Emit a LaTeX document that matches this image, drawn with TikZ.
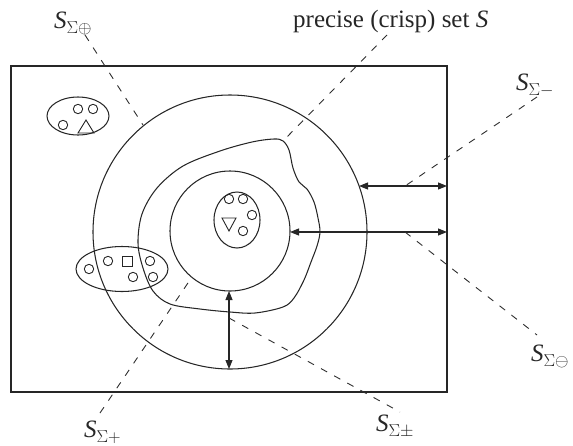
\documentclass[tikz,border=0pt]{standalone}
\usepackage{fontspec}
\setmainfont{Liberation Serif}
\usetikzlibrary{arrows.meta}
\newcommand{\subsz}[1]{\raisebox{-5pt}{\fontsize{18}{18}\selectfont$#1$}}
\tikzset{
  ln/.style={line width=1.05pt, draw=black!85},
  dsh/.style={line width=0.9pt, draw=black!82, dash pattern=on 7pt off 8pt},
  dimarrow/.style={ln, {Triangle[length=9pt,width=7pt]}-{Triangle[length=9pt,width=7pt]}},
  lbl/.style={font=\fontsize{25}{29}\selectfont, inner sep=0pt, anchor=base west, text=black!85},
  dot/.style={ln, line width=0.9pt},
}
\begin{document}
\begin{tikzpicture}[x=1pt,y=-1pt]
\useasboundingbox (0,0) rectangle (573,445);
% frame
\draw[ln] (11,66) rectangle (447,392);
\coordinate (fr1) at (447,186);
\coordinate (fr2) at (447,232);
% outer circle
\coordinate (oc) at (230,232);
\draw[ln] (oc) circle[radius=137];
% inner circle
\coordinate (ic) at (230,231);
\draw[ln] (ic) circle[radius=60];
% crisp set S
\draw[ln] plot[smooth cycle, tension=0.55] coordinates {
 (283,141) (289,150) (293,168) (299,182) (307,189) (314,202) (318,218) (320,232)
 (317,246) (311,262) (304,280) (294,298) (283,307) (255,313) (230,312) (200,309)
 (170,304) (153,291) (143,268) (138,243) (142,214) (157,188) (183,166) (220,151)
 (252,142) (274,139)};
% ellipses
\draw[ln] (78,116) ellipse[x radius=31, y radius=19];
\draw[ln] (237,220) ellipse[x radius=23, y radius=28];
\draw[ln] (122,269) ellipse[x radius=46, y radius=22.5];
% top-left contents
\draw[dot] (78,109) circle[radius=4.7];
\draw[dot] (93,109) circle[radius=4.7];
\draw[dot] (63,125) circle[radius=4.7];
\draw[dot] (78,133) -- (94,133) -- (86,120) -- cycle;
% centre contents
\draw[dot] (229,199) circle[radius=4.7];
\draw[dot] (243,199) circle[radius=4.7];
\draw[dot] (252,215) circle[radius=4.7];
\draw[dot] (243,231) circle[radius=4.7];
\draw[dot] (222,218) -- (236,218) -- (229,231) -- cycle;
% bottom-left contents
\draw[dot] (89,269) circle[radius=4.7];
\draw[dot] (108,261) circle[radius=4.7];
\draw[dot] (150,261) circle[radius=4.7];
\draw[dot] (133,277) circle[radius=4.7];
\draw[dot] (153,277) circle[radius=4.7];
\draw[dot] (122,256) rectangle (132,266);
% arrows
\coordinate (a1) at (359,186);
\coordinate (a2) at (290,232);
\coordinate (v1) at (229,291);
\coordinate (v2) at (229,369);
\draw[dimarrow] (a1) -- (fr1);
\draw[dimarrow] (a2) -- (fr2);
\draw[dimarrow] (v1) -- (v2);
% labels
\node[lbl] (lplus) at (54,28) {\textit{S}\subsz{\Sigma\oplus}};
\node[lbl] (lcrisp) at (293,27) {precise (crisp) set \textit{S}};
\node[lbl] (lminus) at (516,90) {\textit{S}\subsz{\Sigma-}};
\node[lbl] (lominus) at (531,361) {\textit{S}\subsz{\Sigma\ominus}};
\node[lbl] (lp) at (84,437) {\textit{S}\subsz{\Sigma+}};
\node[lbl] (lpm) at (376,431) {\textit{S}\subsz{\Sigma\pm}};
% dashed leaders
\coordinate (d1a) at (85,35);   \coordinate (d1b) at (143,125);
\coordinate (d2a) at (387,35);  \coordinate (d2b) at (283,141);
\coordinate (d3a) at (537,97);  \coordinate (d3b) at (405,186);
\coordinate (d4a) at (405,232); \coordinate (d4b) at (537,335);
\coordinate (d5a) at (100,413); \coordinate (d5b) at (192,277);
\coordinate (d6a) at (229,318); \coordinate (d6b) at (400,412);
\draw[dsh] (d1a) -- (d1b);
\draw[dsh] (d2a) -- (d2b);
\draw[dsh] (d3a) -- (d3b);
\draw[dsh] (d4a) -- (d4b);
\draw[dsh] (d5a) -- (d5b);
\draw[dsh] (d6a) -- (d6b);
\end{tikzpicture}
\end{document}
